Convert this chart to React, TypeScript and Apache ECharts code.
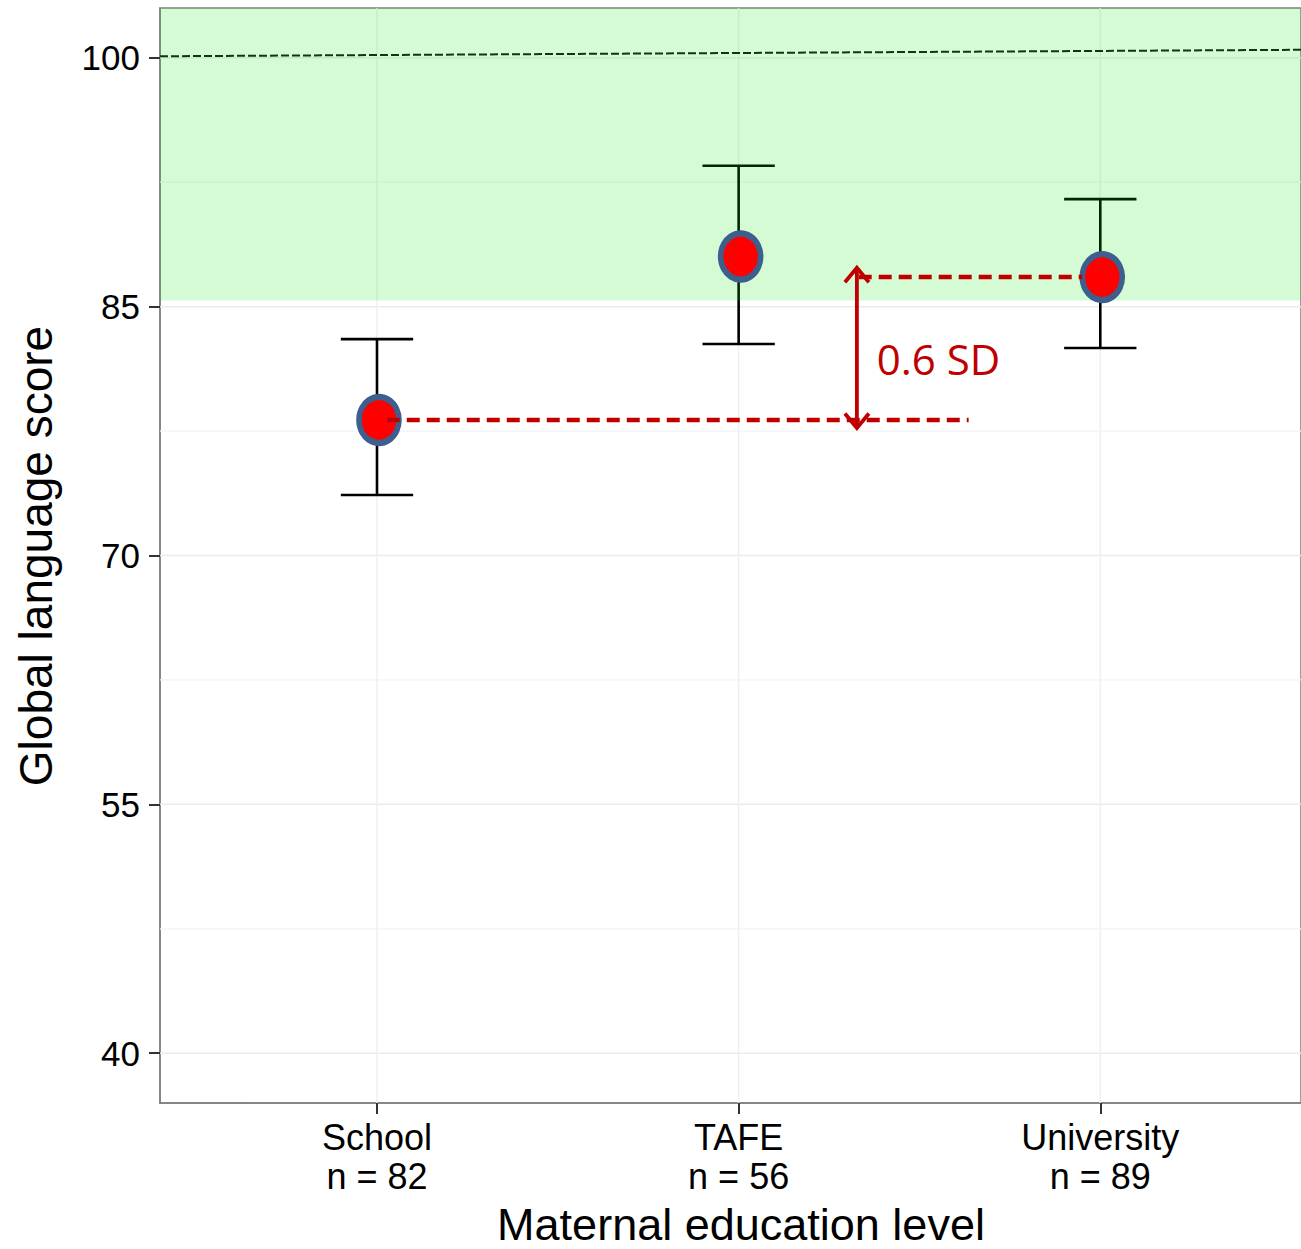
import React, { useEffect, useRef } from "react";
import * as echarts from "echarts";

// ---- data ----
const categories = ["School", "TAFE", "University"];
const sampleSizes = [82, 56, 89];
const means = [78.17, 88.02, 86.78];
const upperCI = [83.04, 93.49, 91.48];
const lowerCI = [73.65, 82.75, 82.51];
const yTicks = [40, 55, 70, 85, 100];
const yMinorTicks = [47.5, 62.5, 77.5, 92.5];
const xTicks = [1, 2, 3];
const normalBand = [85.37, 103];
const referenceLine = [
  [0.4, 100.09],
  [3.555, 100.48],
];
// annotation segments: [x1, y1, x2, y2, kind] kind 0 = dashed, 1 = double arrow
const annotationSegments = [
  [1.027, means[0], 2.636, means[0], 0],
  [2.332, means[2], 2.95, means[2], 0],
  [2.327, 77.69, 2.327, 87.34, 1],
];
const annotationLabel = { x: 2.382, y: 81.85, text: "0.6 SD" };

const FONT = "'Liberation Sans', Arial, Helvetica, sans-serif";

export default function App() {
  const ref = useRef<HTMLDivElement>(null);

  useEffect(() => {
    if (!ref.current) return;
    const chart = echarts.init(ref.current, null, { renderer: "svg" });

    const gridData: any[] = [
      ...yTicks.map((v) => [0, v]),
      ...yMinorTicks.map((v) => [1, v]),
      ...xTicks.map((v) => [2, v]),
    ];

    const option: any = {
      animation: false,
      backgroundColor: "#ffffff",
      grid: {
        left: 160,
        top: 8,
        right: -2,
        bottom: 146,
        show: true,
        borderColor: "#7f7f7f",
        borderWidth: 1.5,
        backgroundColor: "transparent",
      },
      xAxis: {
        type: "value",
        min: 0.4,
        max: 3.555,
        splitLine: { show: false },
        axisLine: { show: true, lineStyle: { color: "#7f7f7f", width: 1.5 } },
        axisTick: {
          show: true,
          customValues: xTicks,
          length: 11,
          lineStyle: { color: "#333333", width: 2 },
        },
        axisLabel: {
          customValues: xTicks,
          formatter: (v: number) => {
            const i = Math.round(v) - 1;
            return categories[i] + "\nn = " + sampleSizes[i];
          },
          fontFamily: FONT,
          fontSize: 36,
          lineHeight: 39,
          color: "#000000",
          margin: 15,
        },
      },
      yAxis: {
        type: "value",
        min: 37,
        max: 103,
        splitLine: { show: false },
        axisLine: { show: true, lineStyle: { color: "#7f7f7f", width: 1.5 } },
        axisTick: {
          show: true,
          customValues: yTicks,
          length: 11,
          lineStyle: { color: "#333333", width: 2 },
        },
        axisLabel: {
          customValues: yTicks,
          fontFamily: FONT,
          fontSize: 35,
          color: "#000000",
          margin: 20,
        },
      },
      graphic: [
        {
          type: "text",
          x: 741,
          y: 1224,
          style: {
            text: "Maternal education level",
            fontFamily: FONT,
            fontSize: 45,
            fill: "#000000",
            align: "center",
            verticalAlign: "middle",
          },
        },
        {
          type: "text",
          x: 36,
          y: 556,
          rotation: Math.PI / 2,
          style: {
            text: "Global language score",
            fontFamily: FONT,
            fontSize: 46,
            fill: "#000000",
            align: "center",
            verticalAlign: "middle",
          },
        },
      ],
      series: [
        {
          name: "gridlines",
          type: "custom",
          z: 1,
          silent: true,
          data: gridData,
          clip: true,
          renderItem: (params: any, api: any) => {
            const cs = params.coordSys;
            const kind = api.value(0);
            const v = api.value(1);
            if (kind === 2) {
              const p = api.coord([v, 50]);
              return {
                type: "line",
                shape: { x1: p[0], y1: cs.y, x2: p[0], y2: cs.y + cs.height },
                style: { stroke: "#efefef", lineWidth: 1.5 },
              };
            }
            const p = api.coord([1, v]);
            return {
              type: "line",
              shape: { x1: cs.x, y1: p[1], x2: cs.x + cs.width, y2: p[1] },
              style: { stroke: kind === 0 ? "#ebebeb" : "#f4f4f4", lineWidth: kind === 0 ? 1.5 : 1.2 },
            };
          },
        },
        {
          name: "reference",
          type: "line",
          z: 2,
          silent: true,
          symbol: "none",
          data: referenceLine,
          lineStyle: { color: "#111111", width: 2, type: [8, 3] },
        },
        {
          name: "errorbars",
          type: "custom",
          z: 3,
          silent: true,
          data: categories.map((_, i) => [i + 1, lowerCI[i], upperCI[i]]),
          renderItem: (params: any, api: any) => {
            const x = api.value(0);
            const lo = api.coord([x, api.value(1)]);
            const hi = api.coord([x, api.value(2)]);
            const half = api.size([0.1, 0])[0];
            const style = { stroke: "#000000", lineWidth: 2.6 };
            return {
              type: "group",
              children: [
                { type: "line", shape: { x1: lo[0], y1: lo[1], x2: hi[0], y2: hi[1] }, style },
                { type: "line", shape: { x1: hi[0] - half, y1: hi[1], x2: hi[0] + half, y2: hi[1] }, style },
                { type: "line", shape: { x1: lo[0] - half, y1: lo[1], x2: lo[0] + half, y2: lo[1] }, style },
              ],
            };
          },
        },
        {
          name: "band",
          type: "custom",
          z: 4,
          silent: true,
          data: [normalBand],
          renderItem: (params: any, api: any) => {
            const cs = params.coordSys;
            const top = api.coord([1, api.value(1)])[1];
            const bottom = api.coord([1, api.value(0)])[1];
            return {
              type: "rect",
              shape: { x: cs.x, y: top, width: cs.width, height: bottom - top },
              style: { fill: "rgba(0,230,0,0.17)" },
            };
          },
        },
        {
          name: "means",
          type: "scatter",
          z: 5,
          silent: true,
          symbol: "circle",
          symbolSize: [40, 46],
          symbolOffset: [2, 0],
          data: categories.map((_, i) => [i + 1, means[i]]),
          itemStyle: { color: "#ff0000", borderColor: "#3c5f8e", borderWidth: 6, opacity: 1 },
        },
        {
          name: "annotations",
          type: "custom",
          z: 6,
          silent: true,
          data: annotationSegments,
          renderItem: (params: any, api: any) => {
            const a = api.coord([api.value(0), api.value(1)]);
            const b = api.coord([api.value(2), api.value(3)]);
            const kind = api.value(4);
            const red = "#c00000";
            if (kind === 0) {
              return {
                type: "line",
                shape: { x1: a[0], y1: a[1], x2: b[0], y2: b[1] },
                style: { stroke: red, lineWidth: 4.5, lineDash: [13, 7] },
              };
            }
            const h = 12;
            const children: any[] = [
              { type: "line", shape: { x1: a[0], y1: a[1], x2: b[0], y2: b[1] }, style: { stroke: red, lineWidth: 3.8 } },
              {
                type: "polyline",
                shape: { points: [[a[0] - h, a[1] - h * 1.2], [a[0], a[1]], [a[0] + h, a[1] - h * 1.2]] },
                style: { stroke: red, lineWidth: 3.8, fill: "none" },
              },
              {
                type: "polyline",
                shape: { points: [[b[0] - h, b[1] + h * 1.2], [b[0], b[1]], [b[0] + h, b[1] + h * 1.2]] },
                style: { stroke: red, lineWidth: 3.8, fill: "none" },
              },
            ];
            const t = api.coord([annotationLabel.x, annotationLabel.y]);
            children.push({
              type: "text",
              x: t[0],
              y: t[1],
              style: {
                text: annotationLabel.text,
                fontFamily: "'Open Sans', 'Noto Sans', sans-serif",
                fontSize: 42,
                fill: red,
                align: "left",
                verticalAlign: "middle",
              },
            });
            return { type: "group", children };
          },
        },
      ],
    };

    chart.setOption(option);
    return () => chart.dispose();
  }, []);

  return (
    <div
      ref={ref}
      style={{ position: "fixed", left: 0, top: 0, width: 1301, height: 1249, background: "#fff" }}
    />
  );
}
